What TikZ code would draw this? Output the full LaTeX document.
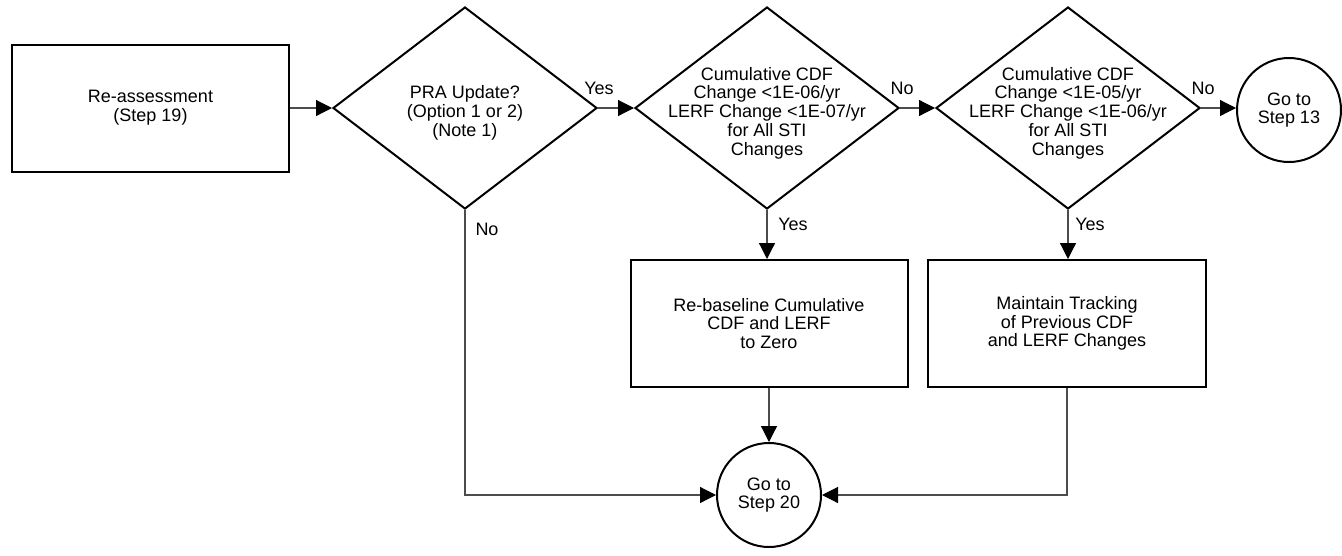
\documentclass[tikz,border=0pt]{standalone}
\usepackage{fontspec}
\setmainfont{Liberation Sans}
\usetikzlibrary{shapes.geometric,arrows.meta}
\begin{document}
\begin{tikzpicture}[x=1pt,y=-1pt,
  shp/.style={draw=black,line width=2pt},
  boxn/.style={shp,rectangle,minimum height=127pt,inner sep=0pt,align=center,font=\fontsize{18}{18.75}\selectfont},
  dia/.style={shp,diamond,minimum width=264pt,minimum height=202pt,inner sep=0pt},
  circ/.style={shp,circle,minimum size=104pt,inner sep=0pt,align=center,font=\fontsize{18}{18.75}\selectfont},
  txt/.style={align=center,font=\fontsize{18}{18.75}\selectfont,inner sep=0pt},
  lbl/.style={font=\fontsize{18}{18.75}\selectfont,inner sep=0pt},
  conn/.style={draw=black!70,line width=1.2pt,-{Triangle[length=16pt,width=16pt,color=black]}},
]
\useasboundingbox (0,0) rectangle (1342,555);
\node[boxn,minimum width=277pt] (b1) at (150.5,108) {Re-assessment\\(Step 19)};
\node[dia] (d1) at (465,108) {};
\node[txt] (d1t) at (465,113) {PRA Update?\\(Option 1 or 2)\\(Note 1)};
\node[dia] (d2) at (767,108) {};
\node[txt] (d2t) at (767,113) {Cumulative CDF\\Change <1E-06/yr\\LERF Change <1E-07/yr\\for All STI\\Changes};
\node[dia] (d3) at (1068,108) {};
\node[txt] (d3t) at (1068,113) {Cumulative CDF\\Change <1E-05/yr\\LERF Change <1E-06/yr\\for All STI\\Changes};
\node[circ] (c13) at (1289,110) {Go to\\Step 13};
\node[boxn,minimum width=277pt] (b2) at (769,323.5) {Re-baseline Cumulative\\CDF and LERF\\to Zero};
\node[boxn,minimum width=278pt] (b3) at (1067,323.5) {Maintain Tracking\\of Previous CDF\\and LERF Changes};
\node[circ] (c20) at (769,495) {Go to\\Step 20};
\draw[conn] (b1.east) -- (d1.west);
\draw[conn] (d1.east) -- (d2.west);
\draw[conn] (d2.east) -- (d3.west);
\draw[conn] (d3.east) -- (c13.west |- d3.east);
\draw[conn] (d2.south) -- (d2.south |- b2.north);
\draw[conn] (d3.south) -- (d3.south |- b3.north);
\draw[conn] (b2.south) -- (c20.north);
\draw[conn] (d1.south) |- (c20.west);
\draw[conn] (b3.south) |- (c20.east);
\node[lbl] (l1) at (599,88) {Yes};
\node[lbl] (l2) at (487,229) {No};
\node[lbl] (l3) at (902,88) {No};
\node[lbl] (l4) at (793,224) {Yes};
\node[lbl] (l5) at (1203,88) {No};
\node[lbl] (l6) at (1090,224) {Yes};
\end{tikzpicture}
\end{document}
